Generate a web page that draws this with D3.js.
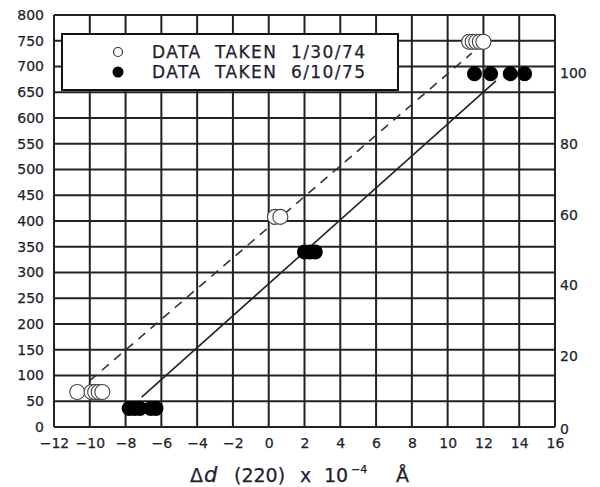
<!DOCTYPE html>
<html><head><meta charset="utf-8">
<script src="https://cdn.jsdelivr.net/npm/d3@7"></script>
<style>body{margin:0;background:#fff}svg{display:block}text{font-family:"DejaVu Sans",Verdana,sans-serif;fill:#1e1e2e;stroke:#1e1e2e;stroke-width:0.25px}</style>
</head><body>
<script>
// ---- data ----
const xTicks = [-12,-10,-8,-6,-4,-2,0,2,4,6,8,10,12,14,16];
const yTicks = [0,50,100,150,200,250,300,350,400,450,500,550,600,650,700,750,800];
const yRightTicks = [0,20,40,60,80,100];
const openX = [-10.7,-9.9,-9.7,-9.5,-9.3, 0.35,0.65, 11.2,11.4,11.6,11.8,12.0];
const openY = [68,68,68,68,68, 408,408, 748,748,748,748,748];
const filledX = [-7.8,-7.5,-7.2,-6.6,-6.3, 2.0,2.3,2.6, 11.5,12.4,13.5,14.3];
const filledY = [36,36,36,36,36, 340,340,340, 686,686,686,686];
const dashedFitX = [-10.0, 11.35];
const dashedFitY = [90, 726];
const solidFitX = [-7.1, 12.7];
const solidFitY = [58, 672];
const legendLabels = ["DATA  TAKEN  1/30/74","DATA  TAKEN  6/10/75"];

const W=600,H=487;
const svg=d3.select("body").append("svg").attr("width",W).attr("height",H);
const x=d3.scaleLinear().domain([-12,16]).range([54,555]);
const y=d3.scaleLinear().domain([0,800]).range([427,15]);
const yR=d3.scaleLinear().domain([0,100]).range([y(0),y(687.5)]);

// grid
const g=svg.append("g");
g.selectAll(".vx").data(xTicks).join("line")
 .attr("x1",d=>x(d)).attr("x2",d=>x(d)).attr("y1",y(0)).attr("y2",y(800))
 .attr("stroke","#222").attr("stroke-width",2);
g.selectAll(".hy").data(yTicks).join("line")
 .attr("y1",d=>y(d)).attr("y2",d=>y(d)).attr("x1",x(-12)).attr("x2",x(16))
 .attr("stroke","#222").attr("stroke-width",2);

// axes (labels only)
const style=s=>{s.select(".domain").remove();s.selectAll("text").attr("font-size",14).style("font-family","DejaVu Sans");};
svg.append("g").attr("transform",`translate(0,${y(0)})`)
 .call(d3.axisBottom(x).tickValues(xTicks).tickSize(0).tickPadding(11)).call(style);
svg.append("g").attr("transform",`translate(${x(-12)},0)`)
 .call(d3.axisLeft(y).tickValues(yTicks).tickSize(0).tickPadding(10)).call(style);
svg.append("g").attr("transform",`translate(${x(16)},0)`)
 .call(d3.axisRight(yR).tickValues(yRightTicks).tickSize(0).tickPadding(5)).call(style)
 .call(s=>s.selectAll(".tick").filter(d=>d===0).select("text").attr("dy","0.45em"));

// fit lines
const line=d3.line().x(d=>x(d[0])).y(d=>y(d[1]));
svg.append("path").datum(d3.zip(dashedFitX,dashedFitY)).attr("d",line)
 .attr("stroke","#333").attr("stroke-width",1.6).attr("fill","none").attr("stroke-dasharray","9,7");
svg.append("path").datum(d3.zip(solidFitX,solidFitY)).attr("d",line)
 .attr("stroke","#222").attr("stroke-width",1.6).attr("fill","none");

// points
svg.append("g").selectAll("circle").data(d3.zip(openX,openY)).join("circle")
 .attr("cx",d=>x(d[0])).attr("cy",d=>y(d[1])).attr("r",7.5)
 .attr("fill","#fff").attr("stroke","#444").attr("stroke-width",1.1);
svg.append("g").selectAll("circle").data(d3.zip(filledX,filledY)).join("circle")
 .attr("cx",d=>x(d[0])).attr("cy",d=>y(d[1])).attr("r",7.5)
 .attr("fill","#000");

// legend
const lg=svg.append("g");
lg.append("rect").attr("x",62).attr("y",34).attr("width",336).attr("height",56)
 .attr("fill","#fff").attr("stroke","#111").attr("stroke-width",2);
lg.append("circle").attr("cx",118).attr("cy",52).attr("r",4.5).attr("fill","#fff").attr("stroke","#333").attr("stroke-width",1.2);
lg.append("circle").attr("cx",118).attr("cy",72).attr("r",5.5).attr("fill","#000");
legendLabels.forEach((t,i)=>{
  lg.append("text").attr("x",152).attr("y",58+i*20).attr("font-size",17)
   .attr("xml:space","preserve").attr("textLength",213).attr("lengthAdjust","spacing").text(t);
});

// x title
const tt=svg.append("text").attr("y",482).attr("font-size",19);
tt.append("tspan").attr("x",190).text("Δ");
tt.append("tspan").attr("x",204).attr("font-style","italic").attr("font-size",21).text("d");
tt.append("tspan").attr("x",234).text("(220)");
tt.append("tspan").attr("x",300).text("x");
tt.append("tspan").attr("x",324).text("10");
tt.append("tspan").attr("x",351).attr("font-size",11).attr("dy",-9).text("−4");
tt.append("tspan").attr("x",396).attr("dy",9).text("Å");
</script>
</body></html>
